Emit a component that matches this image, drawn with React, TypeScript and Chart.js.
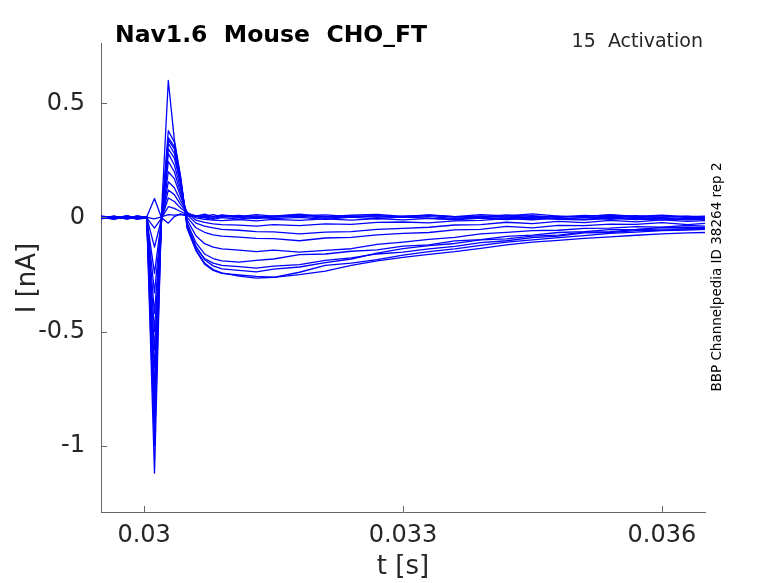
import { useEffect, useRef } from 'react';
import { Chart, registerables } from 'chart.js';

Chart.register(...registerables);

// sample times [s]
const timeS = [
  0.0295, 0.02965, 0.0298, 0.02992, 0.03003, 0.03012, 0.0302, 0.03028, 0.03035, 0.03042,
  0.0305, 0.0306, 0.0307, 0.0308, 0.0309, 0.0311, 0.0313, 0.0315, 0.0318, 0.0321,
  0.0324, 0.0327, 0.033, 0.0333, 0.0336, 0.0339, 0.0342, 0.0345, 0.0348, 0.0351,
  0.0354, 0.0357, 0.036, 0.0363, 0.0365,
];

// current [nA], one array per sweep
const sweep1 = [0.004, -0.006, 0.008, -0.003, 0.002, 0.083, 0.0, -0.025, 0.004, 0.016, 0.01, 0.006, 0.014, 0.004, 0.011, 0.003, 0.012, 0.006, 0.014, 0.004, 0.01, 0.013, 0.005, 0.011, 0.003, 0.012, 0.007, 0.016, 0.006, 0.004, 0.012, 0.005, 0.01, 0.003, 0.006];
const sweep2 = [-0.005, 0.006, -0.004, 0.007, 0.0, -0.006, 0.002, 0.012, 0.01, 0.012, 0.007, 0.004, 0.008, 0.0, 0.009, 0.002, 0.007, 0.001, 0.008, 0.011, 0.003, 0.008, 0.0, 0.01, 0.004, 0.002, 0.011, 0.005, 0.001, 0.009, 0.003, 0.008, 0.0, 0.006, 0.001];
const sweep3 = [0.007, -0.002, 0.004, -0.008, -0.002, -0.047, -0.004, 0.047, 0.04, 0.026, 0.014, 0.008, 0.005, 0.012, 0.003, 0.009, 0.0, 0.007, 0.01, 0.002, 0.008, 0.0, 0.006, 0.009, 0.001, 0.007, 0.002, 0.008, 0.0, 0.006, 0.01, 0.002, 0.007, -0.001, 0.002];
const sweep4 = [-0.003, 0.005, -0.007, 0.003, 0.001, -0.13, -0.008, 0.085, 0.07, 0.042, 0.018, 0.006, 0.002, -0.004, 0.004, 0.0, -0.005, 0.002, 0.006, -0.003, 0.003, 0.007, 0.0, 0.004, -0.004, 0.004, 0.001, -0.004, 0.006, 0.0, 0.002, -0.005, 0.001, 0.005, -0.003];
const sweep5 = [0.002, -0.008, 0.005, 0.0, -0.004, -0.245, -0.012, 0.12, 0.1, 0.058, 0.02, 0.004, -0.002, -0.008, -0.001, -0.007, 0.002, -0.005, 0.0, -0.008, 0.001, -0.006, 0.003, -0.004, -0.007, 0.0, -0.005, 0.002, -0.006, -0.001, -0.008, 0.0, -0.005, -0.007, -0.003];
const sweep6 = [-0.006, 0.003, -0.002, 0.006, 0.0, -0.33, -0.016, 0.156, 0.13, 0.075, 0.022, -0.002, -0.008, -0.012, -0.014, -0.009, -0.015, -0.008, -0.013, -0.006, -0.012, -0.005, -0.011, -0.004, -0.01, -0.003, -0.009, -0.002, -0.008, -0.011, -0.004, -0.009, -0.003, -0.01, -0.007];
const sweep7 = [0.005, -0.004, 0.002, -0.006, 0.003, -0.42, -0.02, 0.2, 0.17, 0.095, 0.02, -0.012, -0.022, -0.028, -0.031, -0.034, -0.038, -0.031, -0.036, -0.028, -0.03, -0.022, -0.02, -0.024, -0.015, -0.013, -0.005, -0.01, -0.003, -0.009, -0.002, -0.007, -0.011, -0.004, -0.009];
const sweep8 = [-0.002, 0.006, -0.005, 0.001, -0.003, -0.5, -0.022, 0.245, 0.2, 0.11, 0.012, -0.025, -0.038, -0.046, -0.052, -0.056, -0.062, -0.063, -0.072, -0.064, -0.062, -0.052, -0.048, -0.043, -0.033, -0.031, -0.021, -0.027, -0.017, -0.023, -0.013, -0.019, -0.011, -0.017, -0.014];
const sweep9 = [0.004, -0.003, 0.007, -0.004, 0.0, -0.58, -0.022, 0.28, 0.23, 0.13, 0.0, -0.045, -0.065, -0.076, -0.082, -0.086, -0.092, -0.093, -0.102, -0.09, -0.087, -0.076, -0.07, -0.066, -0.054, -0.052, -0.039, -0.046, -0.035, -0.036, -0.029, -0.03, -0.023, -0.031, -0.026];
const sweep10 = [-0.004, 0.002, -0.001, 0.005, -0.002, -0.66, -0.018, 0.3, 0.26, 0.15, -0.012, -0.08, -0.115, -0.13, -0.138, -0.143, -0.15, -0.143, -0.152, -0.144, -0.137, -0.118, -0.108, -0.096, -0.087, -0.072, -0.065, -0.058, -0.056, -0.048, -0.047, -0.04, -0.042, -0.035, -0.038];
const sweep11 = [0.001, -0.005, 0.004, -0.002, 0.002, -0.74, -0.014, 0.325, 0.28, 0.16, -0.025, -0.11, -0.16, -0.18, -0.19, -0.196, -0.188, -0.182, -0.163, -0.16, -0.148, -0.142, -0.126, -0.12, -0.103, -0.097, -0.083, -0.077, -0.066, -0.062, -0.053, -0.052, -0.044, -0.043, -0.044];
const sweep12 = [-0.003, 0.004, -0.006, 0.002, -0.001, -0.82, -0.01, 0.34, 0.3, 0.17, -0.035, -0.125, -0.185, -0.212, -0.225, -0.232, -0.238, -0.226, -0.217, -0.198, -0.182, -0.156, -0.137, -0.123, -0.114, -0.098, -0.094, -0.082, -0.077, -0.064, -0.062, -0.053, -0.051, -0.05, -0.048];
const sweep13 = [0.003, -0.002, 0.005, -0.005, 0.001, -0.9, -0.006, 0.35, 0.31, 0.175, -0.045, -0.14, -0.2, -0.228, -0.243, -0.257, -0.266, -0.262, -0.25, -0.235, -0.21, -0.19, -0.175, -0.162, -0.15, -0.135, -0.12, -0.108, -0.1, -0.092, -0.085, -0.078, -0.072, -0.068, -0.066];
const sweep14 = [-0.005, 0.003, -0.002, 0.006, -0.003, -1.0, 0.0, 0.38, 0.33, 0.18, -0.05, -0.145, -0.205, -0.232, -0.245, -0.252, -0.258, -0.262, -0.24, -0.21, -0.2, -0.185, -0.165, -0.15, -0.138, -0.122, -0.108, -0.098, -0.088, -0.08, -0.07, -0.064, -0.058, -0.055, -0.052];
const sweep15 = [0.002, -0.006, 0.003, -0.001, 0.004, -1.12, 0.012, 0.6, 0.34, 0.185, -0.04, -0.13, -0.18, -0.2, -0.21, -0.215, -0.222, -0.213, -0.207, -0.188, -0.177, -0.16, -0.152, -0.138, -0.127, -0.11, -0.102, -0.088, -0.082, -0.068, -0.066, -0.058, -0.057, -0.049, -0.046];

const sweeps = [sweep1, sweep2, sweep3, sweep4, sweep5, sweep6, sweep7, sweep8, sweep9, sweep10, sweep11, sweep12, sweep13, sweep14, sweep15];

const xTicks = [0.03, 0.033, 0.036];
const xTickLabels = ['0.03', '0.033', '0.036'];
const yTicks = [-1, -0.5, 0, 0.5];
const yTickLabels = ['-1', '-0.5', '0', '0.5'];

const FONT = '"DejaVu Sans", sans-serif';
const TEXT = '#262626';
const AXIS = '#666666';

const annotations = {
  id: 'annotations',
  afterDraw(chart: Chart) {
    const { ctx, chartArea } = chart;
    const xs = chart.scales.x;
    const ys = chart.scales.y;
    ctx.save();
    // inward ticks
    ctx.strokeStyle = AXIS;
    ctx.lineWidth = 1;
    ctx.beginPath();
    yTicks.forEach((v) => {
      const y = Math.round(ys.getPixelForValue(v)) + 0.5;
      ctx.moveTo(chartArea.left, y);
      ctx.lineTo(chartArea.left + 6, y);
    });
    xTicks.forEach((v) => {
      const x = Math.round(xs.getPixelForValue(v)) + 0.5;
      ctx.moveTo(x, chartArea.bottom);
      ctx.lineTo(x, chartArea.bottom - 6);
    });
    ctx.stroke();

    ctx.fillStyle = '#000000';
    ctx.font = `bold 23.5px ${FONT}`;
    ctx.textAlign = 'left';
    ctx.textBaseline = 'alphabetic';
    ctx.fillText('Nav1.6  Mouse  CHO_FT', 115, 42);

    ctx.fillStyle = TEXT;
    ctx.font = `19px ${FONT}`;
    ctx.textAlign = 'right';
    ctx.fillText('15  Activation', 703, 47);

    ctx.font = `26px ${FONT}`;
    ctx.textAlign = 'center';
    ctx.textBaseline = 'middle';
    ctx.fillText('t [s]', 403, 567);

    ctx.save();
    ctx.translate(28, 278);
    ctx.rotate(-Math.PI / 2);
    ctx.fillText('I [nA]', 0, 0);
    ctx.restore();

    ctx.save();
    ctx.fillStyle = '#000000';
    ctx.font = `13.5px ${FONT}`;
    ctx.translate(717, 277);
    ctx.rotate(-Math.PI / 2);
    ctx.fillText('BBP Channelpedia ID 38264 rep 2', 0, 0);
    ctx.restore();

    ctx.restore();
  },
};

export default function App() {
  const canvasRef = useRef<HTMLCanvasElement>(null);
  const chartRef = useRef<Chart | null>(null);

  useEffect(() => {
    document.body.style.margin = '0';
    if (!canvasRef.current) return;
    if (chartRef.current) chartRef.current.destroy();

    chartRef.current = new Chart(canvasRef.current, {
      type: 'line',
      data: {
        datasets: sweeps.map((s, i) => ({
          label: `sweep ${i + 1}`,
          data: timeS.map((t, k) => ({ x: t, y: s[k] })),
          borderColor: '#0000ff',
          borderWidth: 1.3,
          borderJoinStyle: 'round' as const,
          pointRadius: 0,
          tension: 0,
          fill: false,
        })),
      },
      options: {
        responsive: false,
        animation: false,
        devicePixelRatio: 1,
        layout: { padding: { top: 43, right: 73, bottom: 0, left: 0 } },
        plugins: {
          legend: { display: false },
          tooltip: { enabled: false },
          title: { display: false },
        },
        scales: {
          x: {
            type: 'linear',
            min: 0.0295,
            max: 0.0365,
            afterFit: (scale) => { scale.height = 71; },
            afterBuildTicks: (scale) => { scale.ticks = xTicks.map((v) => ({ value: v })); },
            grid: { display: false },
            border: { display: true, color: AXIS, width: 1 },
            ticks: {
              color: TEXT,
              padding: 1,
              maxRotation: 0,
              font: { size: 24, family: FONT },
              callback: (value) => xTickLabels[xTicks.indexOf(Number(value))] ?? '',
            },
          },
          y: {
            type: 'linear',
            min: -1.29,
            max: 0.764,
            afterFit: (scale) => { scale.width = 101; },
            afterBuildTicks: (scale) => { scale.ticks = yTicks.map((v) => ({ value: v })); },
            grid: { display: false },
            border: { display: true, color: AXIS, width: 1 },
            ticks: {
              color: TEXT,
              padding: 8,
              font: { size: 24, family: FONT },
              callback: (value) => yTickLabels[yTicks.indexOf(Number(value))] ?? '',
            },
          },
        },
      },
      plugins: [annotations],
    });

    return () => {
      if (chartRef.current) {
        chartRef.current.destroy();
        chartRef.current = null;
      }
    };
  }, []);

  return (
    <div style={{ width: 778, height: 583, background: '#ffffff' }}>
      <canvas ref={canvasRef} width={778} height={583} />
    </div>
  );
}
